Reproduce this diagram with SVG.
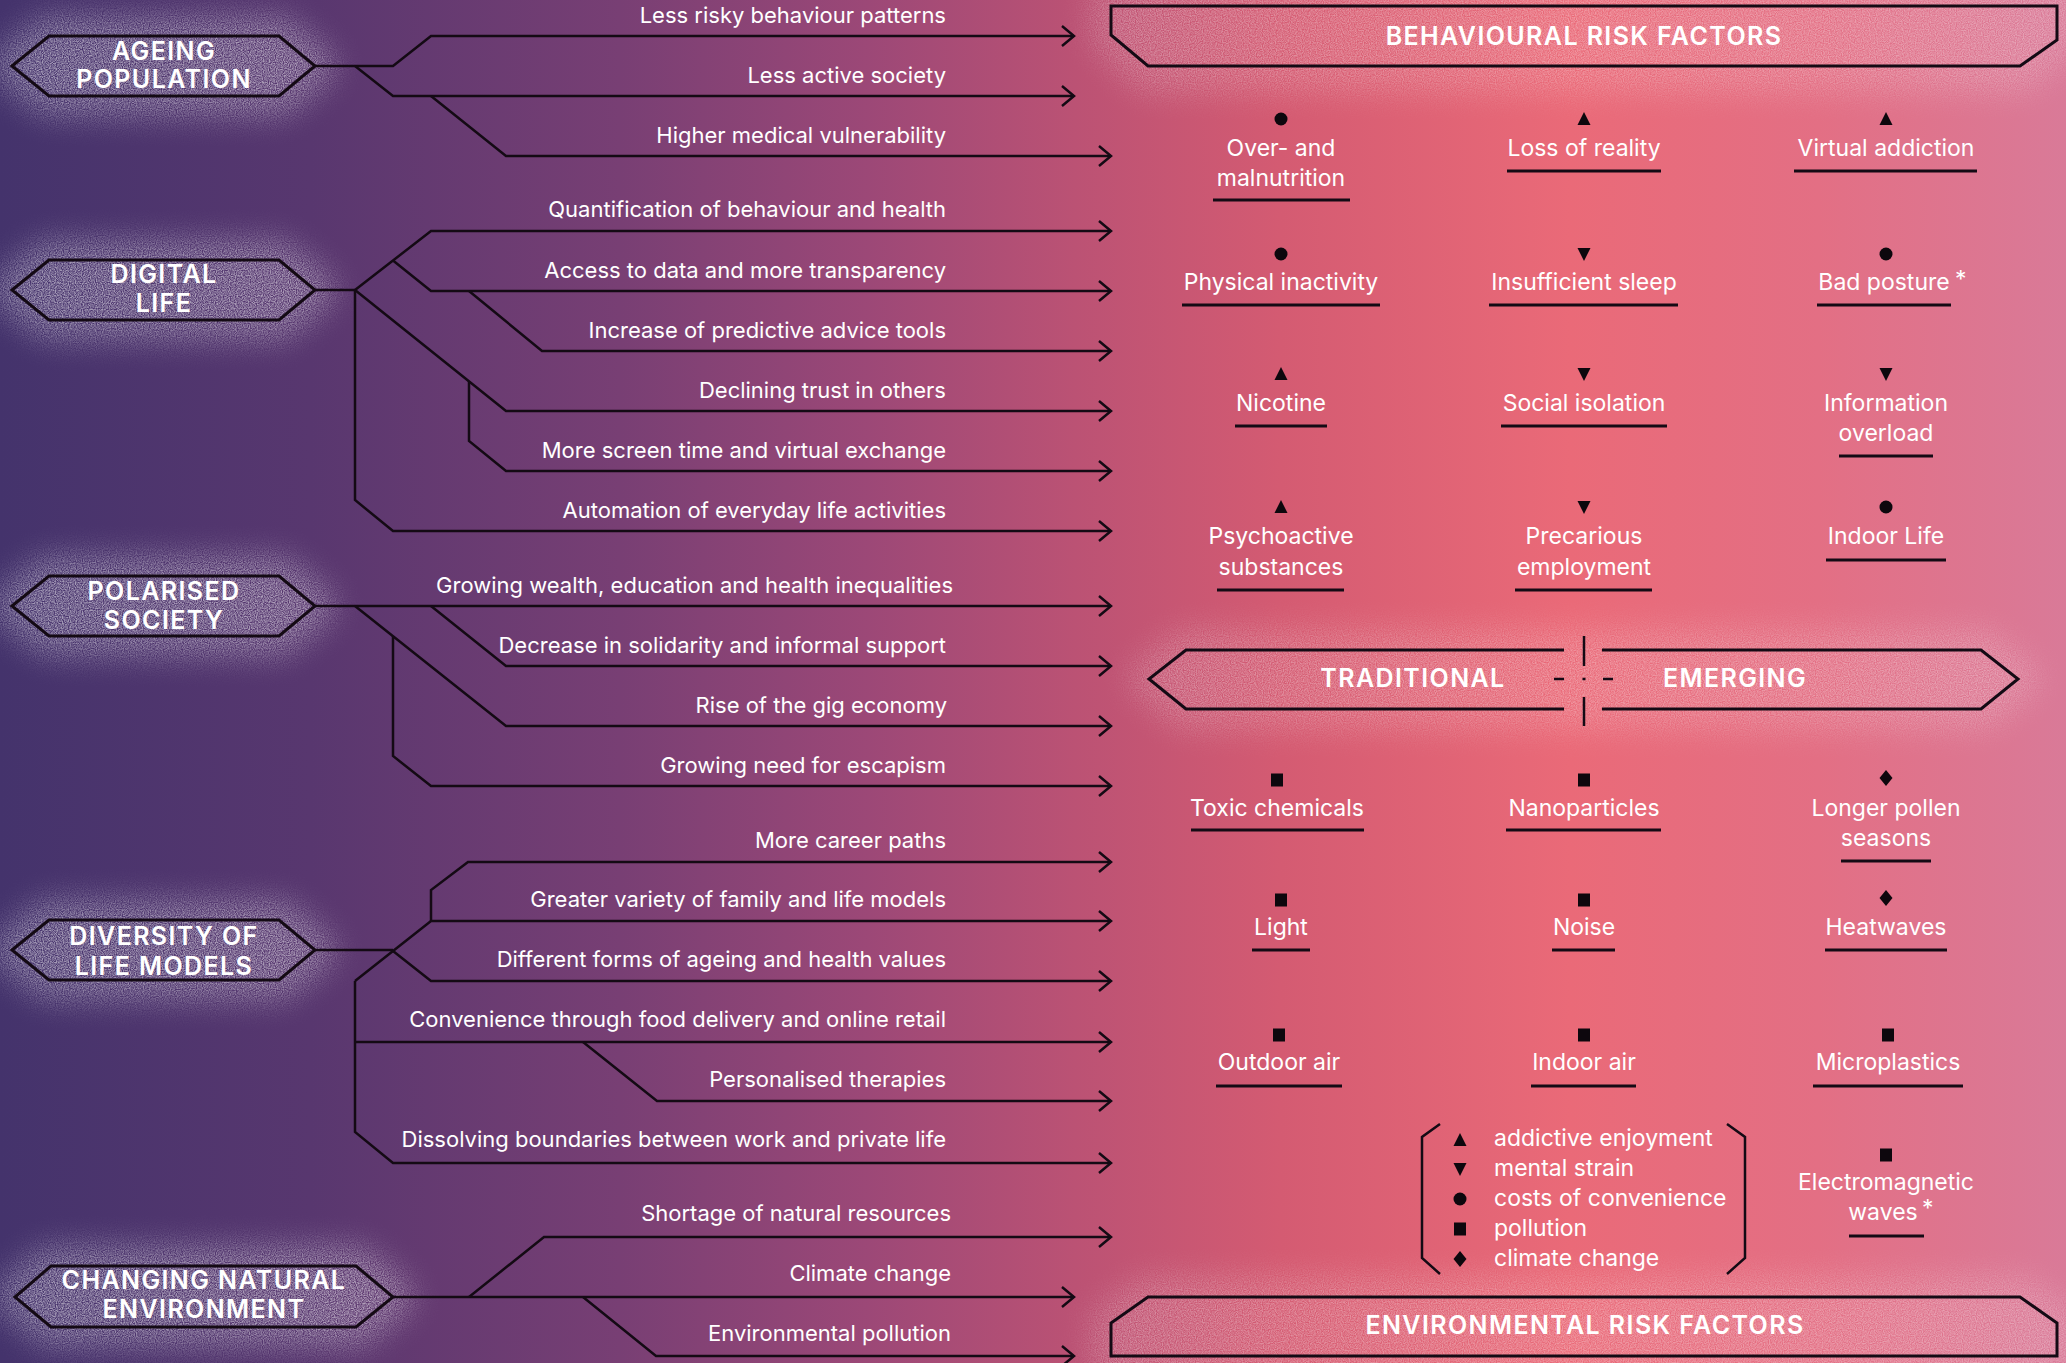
<svg xmlns="http://www.w3.org/2000/svg" xmlns:xlink="http://www.w3.org/1999/xlink" width="2066" height="1363" viewBox="0 0 2066 1363">
<defs>
<linearGradient id="bg" x1="0" y1="0" x2="1" y2="0">
<stop offset="0" stop-color="#44336c"/>
<stop offset="0.15" stop-color="#58376f"/>
<stop offset="0.3" stop-color="#783f74"/>
<stop offset="0.42" stop-color="#9c4877"/>
<stop offset="0.52" stop-color="#bb5274"/>
<stop offset="0.62" stop-color="#d45b72"/>
<stop offset="0.76" stop-color="#ea6a78"/>
<stop offset="0.88" stop-color="#e36f84"/>
<stop offset="1" stop-color="#d97a98"/>
</linearGradient>
<filter id="grain" x="-30%" y="-100%" width="160%" height="300%">
<feGaussianBlur in="SourceGraphic" stdDeviation="15" result="blur"/>
<feTurbulence type="fractalNoise" baseFrequency="0.85" numOctaves="1" seed="4" result="noise"/>
<feColorMatrix in="noise" type="matrix" values="0 0 0 0 1  0 0 0 0 1  0 0 0 0 1  2.4 0 0 0 -0.7" result="dots"/>
<feComposite in="dots" in2="blur" operator="in"/>
</filter>
<marker id="arr" markerUnits="userSpaceOnUse" markerWidth="18" markerHeight="26" viewBox="0 0 18 26" refX="14" refY="13" orient="auto">
<path d="M2,3 L14,13 L2,23" fill="none" stroke="#140a14" stroke-width="2.5"/>
</marker>
<path id="tu" d="M0,-7 L6.5,6 L-6.5,6Z"/>
<path id="td" d="M0,7 L6.5,-6 L-6.5,-6Z"/>
<circle id="ci" r="6.5"/>
<rect id="sq" x="-6" y="-6.5" width="12" height="13"/>
<path id="di" d="M0,-8 L6.5,0 L0,8 L-6.5,0Z"/>
<style>
.ln{fill:none;stroke:#140a14;stroke-width:2.5}
.ar{marker-end:url(#arr)}
.hx{fill:none;stroke:#140a14;stroke-width:3}
.ht{font-family:Inter,"Liberation Sans",sans-serif;font-weight:600;font-size:25px;letter-spacing:1.4px;fill:#fff;text-anchor:middle}
.lb{font-family:Inter,"Liberation Sans",sans-serif;font-size:22px;fill:#fff;text-anchor:end}
.gt{font-family:Inter,"Liberation Sans",sans-serif;font-size:23px;fill:#fff;text-anchor:middle}
.lg{font-family:Inter,"Liberation Sans",sans-serif;font-size:23px;fill:#fff}
.ul{stroke:#140a14;stroke-width:3}
.sy{fill:#0d070d}
.glow{fill:#fff;stroke:#fff;stroke-width:40;stroke-linejoin:round;filter:url(#grain)}
</style>
</defs>
<rect width="2066" height="1363" fill="url(#bg)"/>

<g id="glows">
<polygon class="glow" opacity="0.5" points="12,66 49,36 279,36 315,66 279,96 49,96"/>
<polygon class="glow" opacity="0.5" points="12,290 49,260 279,260 315,290 279,320 49,320"/>
<polygon class="glow" opacity="0.5" points="12,606 49,576 279,576 315,606 279,636 49,636"/>
<polygon class="glow" opacity="0.5" points="12,950 49,920 279,920 315,950 279,980 49,980"/>
<polygon class="glow" opacity="0.5" points="15,1297 51,1266 356,1266 393,1297 356,1327 51,1327"/>
<polygon class="glow" opacity="0.3" points="1111,0 2057,0 2057,40 2020,72 1148,72 1111,35"/>
<polygon class="glow" opacity="0.3" points="1149,679 1186,650 1981,650 2018,679 1981,709 1186,709"/>
<polygon class="glow" opacity="0.3" points="1148,1297 2020,1297 2057,1323 2057,1363 1111,1363 1111,1323"/>
</g>

<g id="connectors">
<path class="ln ar" d="M315,66 H393 L431,36 H1074"/>
<path class="ln ar" d="M355,66 L393,96 H1074"/>
<path class="ln ar" d="M431,96 L506,156 H1111"/>

<path class="ln" d="M315,290 H355"/>
<path class="ln ar" d="M355,290 L431,231 H1111"/>
<path class="ln ar" d="M393,260.5 L431,291 H1111"/>
<path class="ln ar" d="M469,291 L542,351 H1111"/>
<path class="ln ar" d="M355,290 L506,411 H1111"/>
<path class="ln ar" d="M469,381 V441 L506,471 H1111"/>
<path class="ln ar" d="M355,290 V500 L393,531 H1111"/>

<path class="ln ar" d="M315,606 H1111"/>
<path class="ln ar" d="M431,606 L506,666 H1111"/>
<path class="ln ar" d="M355,606 L506,726 H1111"/>
<path class="ln ar" d="M393,636 V756 L431,786 H1111"/>

<path class="ln" d="M315,950 H393"/>
<path class="ln ar" d="M431,921 V890 L468,862 H1111"/>
<path class="ln ar" d="M355,981 L431,921 H1111"/>
<path class="ln ar" d="M393,951 L431,981 H1111"/>
<path class="ln ar" d="M355,981 V1132 L393,1163 H1111"/>
<path class="ln ar" d="M355,1042 H1111"/>
<path class="ln ar" d="M583,1042 L657,1101 H1111"/>

<path class="ln ar" d="M393,1297 H1074"/>
<path class="ln ar" d="M469,1297 L544,1237 H1111"/>
<path class="ln ar" d="M583,1297 L656,1356 H1074"/>
</g>

<g id="connector-labels">
<text class="lb" x="946" y="23">Less risky behaviour patterns</text>
<text class="lb" x="946" y="83">Less active society</text>
<text class="lb" x="946" y="143">Higher medical vulnerability</text>
<text class="lb" x="946" y="217">Quantification of behaviour and health</text>
<text class="lb" x="946" y="278">Access to data and more transparency</text>
<text class="lb" x="946" y="338">Increase of predictive advice tools</text>
<text class="lb" x="946" y="398">Declining trust in others</text>
<text class="lb" x="946" y="458">More screen time and virtual exchange</text>
<text class="lb" x="946" y="518">Automation of everyday life activities</text>
<text class="lb" x="953" y="593">Growing wealth, education and health inequalities</text>
<text class="lb" x="946" y="653">Decrease in solidarity and informal support</text>
<text class="lb" x="947" y="713">Rise of the gig economy</text>
<text class="lb" x="946" y="773">Growing need for escapism</text>
<text class="lb" x="946" y="848">More career paths</text>
<text class="lb" x="946" y="907">Greater variety of family and life models</text>
<text class="lb" x="946" y="967">Different forms of ageing and health values</text>
<text class="lb" x="946" y="1027">Convenience through food delivery and online retail</text>
<text class="lb" x="946" y="1087">Personalised therapies</text>
<text class="lb" x="946" y="1147">Dissolving boundaries between work and private life</text>
<text class="lb" x="951" y="1221">Shortage of natural resources</text>
<text class="lb" x="951" y="1281">Climate change</text>
<text class="lb" x="951" y="1341">Environmental pollution</text>
</g>

<g id="node-ageing">
<polygon class="hx" points="12,66 49,36 279,36 315,66 279,96 49,96"/>
<text class="ht" x="164" y="60">AGEING</text>
<text class="ht" x="164" y="88">POPULATION</text>
</g>
<g id="node-digital">
<polygon class="hx" points="12,290 49,260 279,260 315,290 279,320 49,320"/>
<text class="ht" x="164" y="283">DIGITAL</text>
<text class="ht" x="164" y="312">LIFE</text>
</g>
<g id="node-polarised">
<polygon class="hx" points="12,606 49,576 279,576 315,606 279,636 49,636"/>
<text class="ht" x="164" y="600">POLARISED</text>
<text class="ht" x="164" y="629">SOCIETY</text>
</g>
<g id="node-diversity">
<polygon class="hx" points="12,950 49,920 279,920 315,950 279,980 49,980"/>
<text class="ht" x="164" y="945">DIVERSITY OF</text>
<text class="ht" x="164" y="975">LIFE MODELS</text>
</g>
<g id="node-changing">
<polygon class="hx" points="15,1297 51,1266 356,1266 393,1297 356,1327 51,1327"/>
<text class="ht" x="204" y="1289">CHANGING NATURAL</text>
<text class="ht" x="204" y="1318">ENVIRONMENT</text>
</g>

<g id="node-behavioural">
<polygon class="hx" points="1111,6 2057,6 2057,40 2020,66 1148,66 1111,35"/>
<text class="ht" x="1584" y="45">BEHAVIOURAL RISK FACTORS</text>
</g>
<g id="node-traditional-emerging">
<path class="hx" d="M1564,650 H1186 L1149,679 L1186,709 H1564"/>
<path class="hx" d="M1602,650 H1981 L2018,679 L1981,709 H1602"/>
<path class="ln" d="M1584,636 V666 M1584,697 V726 M1554,679 H1564 M1603,679 H1613 M1582.5,679 H1585.5"/>
<text class="ht" x="1413" y="687">TRADITIONAL</text>
<text class="ht" x="1735" y="687">EMERGING</text>
</g>
<g id="node-environmental">
<polygon class="hx" points="1148,1297 2020,1297 2057,1323 2057,1356 1111,1356 1111,1323"/>
<text class="ht" x="1585" y="1334">ENVIRONMENTAL RISK FACTORS</text>
</g>

<g id="behavioural-factors">
<g id="f-over"><use href="#ci" class="sy" x="1281" y="119"/><text class="gt" x="1281" y="156">Over- and</text><text class="gt" x="1281" y="186">malnutrition</text><line class="ul" x1="1213" y1="200" x2="1350" y2="200"/></g>
<g id="f-loss"><use href="#tu" class="sy" x="1584" y="119"/><text class="gt" x="1584" y="156">Loss of reality</text><line class="ul" x1="1507" y1="171" x2="1661" y2="171"/></g>
<g id="f-virtual"><use href="#tu" class="sy" x="1886" y="119"/><text class="gt" x="1886" y="156">Virtual addiction</text><line class="ul" x1="1794" y1="171" x2="1977" y2="171"/></g>
<g id="f-physical"><use href="#ci" class="sy" x="1281" y="254"/><text class="gt" x="1281" y="290">Physical inactivity</text><line class="ul" x1="1182" y1="305" x2="1380" y2="305"/></g>
<g id="f-sleep"><use href="#td" class="sy" x="1584" y="254"/><text class="gt" x="1584" y="290">Insufficient sleep</text><line class="ul" x1="1489" y1="305" x2="1678" y2="305"/></g>
<g id="f-posture"><use href="#ci" class="sy" x="1886" y="254"/><text class="gt" x="1884" y="290">Bad posture</text><text class="lg" x="1955" y="287">*</text><line class="ul" x1="1817" y1="305" x2="1951" y2="305"/></g>
<g id="f-nicotine"><use href="#tu" class="sy" x="1281" y="374"/><text class="gt" x="1281" y="411">Nicotine</text><line class="ul" x1="1235" y1="426" x2="1327" y2="426"/></g>
<g id="f-social"><use href="#td" class="sy" x="1584" y="374"/><text class="gt" x="1584" y="411">Social isolation</text><line class="ul" x1="1501" y1="426" x2="1667" y2="426"/></g>
<g id="f-info"><use href="#td" class="sy" x="1886" y="374"/><text class="gt" x="1886" y="411">Information</text><text class="gt" x="1886" y="441">overload</text><line class="ul" x1="1839" y1="456" x2="1933" y2="456"/></g>
<g id="f-psycho"><use href="#tu" class="sy" x="1281" y="507"/><text class="gt" x="1281" y="544">Psychoactive</text><text class="gt" x="1281" y="575">substances</text><line class="ul" x1="1217" y1="590" x2="1344" y2="590"/></g>
<g id="f-precarious"><use href="#td" class="sy" x="1584" y="507"/><text class="gt" x="1584" y="544">Precarious</text><text class="gt" x="1584" y="575">employment</text><line class="ul" x1="1515" y1="590" x2="1652" y2="590"/></g>
<g id="f-indoorlife"><use href="#ci" class="sy" x="1886" y="507"/><text class="gt" x="1886" y="544">Indoor Life</text><line class="ul" x1="1826" y1="560" x2="1946" y2="560"/></g>
</g>

<g id="environmental-factors">
<g id="f-toxic"><use href="#sq" class="sy" x="1277" y="780"/><text class="gt" x="1277" y="816">Toxic chemicals</text><line class="ul" x1="1191" y1="830" x2="1364" y2="830"/></g>
<g id="f-nano"><use href="#sq" class="sy" x="1584" y="780"/><text class="gt" x="1584" y="816">Nanoparticles</text><line class="ul" x1="1506" y1="830" x2="1661" y2="830"/></g>
<g id="f-pollen"><use href="#di" class="sy" x="1886" y="778"/><text class="gt" x="1886" y="816">Longer pollen</text><text class="gt" x="1886" y="846">seasons</text><line class="ul" x1="1841" y1="861" x2="1931" y2="861"/></g>
<g id="f-light"><use href="#sq" class="sy" x="1281" y="900"/><text class="gt" x="1281" y="935">Light</text><line class="ul" x1="1252" y1="950" x2="1310" y2="950"/></g>
<g id="f-noise"><use href="#sq" class="sy" x="1584" y="900"/><text class="gt" x="1584" y="935">Noise</text><line class="ul" x1="1552" y1="950" x2="1615" y2="950"/></g>
<g id="f-heat"><use href="#di" class="sy" x="1886" y="898"/><text class="gt" x="1886" y="935">Heatwaves</text><line class="ul" x1="1825" y1="950" x2="1947" y2="950"/></g>
<g id="f-outdoor"><use href="#sq" class="sy" x="1279" y="1035"/><text class="gt" x="1279" y="1070">Outdoor air</text><line class="ul" x1="1216" y1="1086" x2="1342" y2="1086"/></g>
<g id="f-indoorair"><use href="#sq" class="sy" x="1584" y="1035"/><text class="gt" x="1584" y="1070">Indoor air</text><line class="ul" x1="1531" y1="1086" x2="1636" y2="1086"/></g>
<g id="f-micro"><use href="#sq" class="sy" x="1888" y="1035"/><text class="gt" x="1888" y="1070">Microplastics</text><line class="ul" x1="1813" y1="1086" x2="1963" y2="1086"/></g>
<g id="f-em"><use href="#sq" class="sy" x="1886" y="1155"/><text class="gt" x="1886" y="1190">Electromagnetic</text><text class="gt" x="1883" y="1220">waves</text><text class="lg" x="1922" y="1216">*</text><line class="ul" x1="1849" y1="1236" x2="1924" y2="1236"/></g>
</g>

<g id="legend">
<path class="ln" d="M1440,1124 L1422,1137 V1258 L1440,1274"/>
<path class="ln" d="M1727,1124 L1745,1137 V1258 L1727,1274"/>
<use href="#tu" class="sy" x="1460" y="1140"/><text class="lg" x="1494" y="1146">addictive enjoyment</text>
<use href="#td" class="sy" x="1460" y="1169"/><text class="lg" x="1494" y="1176">mental strain</text>
<use href="#ci" class="sy" x="1460" y="1199"/><text class="lg" x="1494" y="1206">costs of convenience</text>
<use href="#sq" class="sy" x="1460" y="1229"/><text class="lg" x="1494" y="1236">pollution</text>
<use href="#di" class="sy" x="1460" y="1259"/><text class="lg" x="1494" y="1266">climate change</text>
</g>
</svg>
